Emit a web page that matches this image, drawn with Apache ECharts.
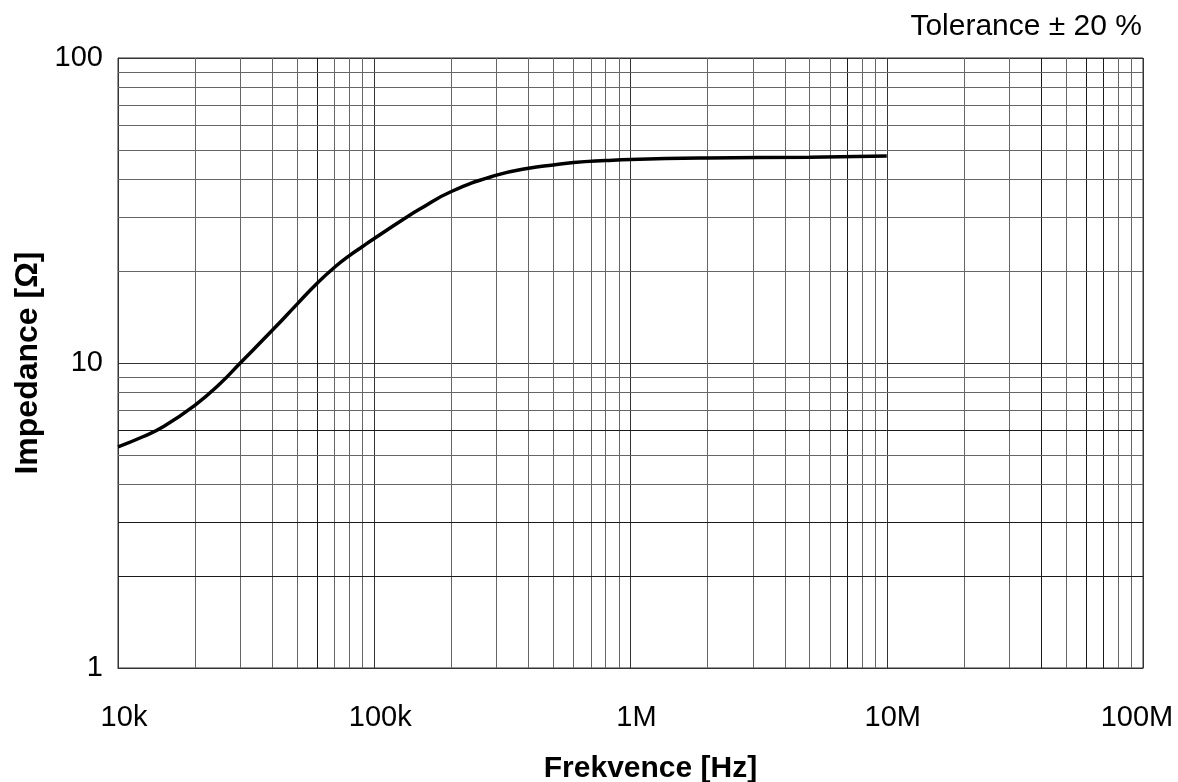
<!DOCTYPE html>
<html>
<head>
<meta charset="utf-8">
<script src="https://cdn.jsdelivr.net/npm/echarts@6/dist/echarts.min.js"></script>
<style>
html,body{margin:0;padding:0;background:#fff;overflow:hidden;}
#chart{width:1178px;height:782px;}
</style>
</head>
<body>
<div id="chart"></div>
<script>
// Impedance curve (frequency in Hz, impedance in ohms)
const frequency = [10000, 12500, 15000, 20000, 25000, 30000, 40000, 50000, 60000, 70000, 80000, 90000, 100000, 130000, 150000, 200000, 300000, 400000, 500000, 600000, 800000, 1000000, 2000000, 5000000, 10000000];
const impedance = [5.31, 5.73, 6.18, 7.28, 8.55, 10.0, 12.8, 15.6, 18.3, 20.6, 22.5, 24.1, 25.6, 29.6, 31.9, 36.5, 41.3, 43.5, 44.6, 45.4, 46.1, 46.5, 47.0, 47.3, 47.7];

// Axis ticks
const xTicks = [10000, 100000, 1000000, 10000000, 100000000];
const xTickLabels = ['10k', '100k', '1M', '10M', '100M'];
const yTicks = [1, 10, 100];
const yTickLabels = ['1', '10', '100'];

// Minor grid lines
const xMinor = [20000, 30000, 40000, 50000, 60000, 70000, 80000, 90000,
  200000, 300000, 400000, 500000, 600000, 700000, 800000, 900000,
  2000000, 3000000, 4000000, 5000000, 6000000, 7000000, 8000000, 9000000,
  20000000, 30000000, 40000000, 50000000, 60000000, 70000000, 80000000, 90000000];
const xMinorDark = [60000, 7000000, 40000000, 60000000, 70000000];
const yMinor = [2, 3, 4, 5, 6, 7, 8, 9, 20, 30, 40, 50, 60, 70, 80, 90];
const yMinorDark = [2, 3, 6];

const chart = echarts.init(document.getElementById('chart'), null, {renderer: 'canvas'});

const FONT = '"Liberation Sans", Arial, sans-serif';
const light = '#666';
const dark = '#1a1a1a';

function tickIndex(ticks, v) {
  const e = Math.round(Math.log10(v));
  for (let i = 0; i < ticks.length; i++) {
    if (Math.round(Math.log10(ticks[i])) === e) return i;
  }
  return -1;
}

const gridLines = [];
xMinor.forEach(v => gridLines.push({xAxis: v, lineStyle: {color: xMinorDark.indexOf(v) >= 0 ? dark : light}}));
yMinor.forEach(v => gridLines.push({yAxis: v, lineStyle: {color: yMinorDark.indexOf(v) >= 0 ? dark : light}}));

chart.setOption({
  animation: false,
  backgroundColor: '#fff',
  title: {
    text: 'Tolerance \u00b1 20 %',
    right: 36,
    top: 12,
    padding: 0,
    textStyle: {fontFamily: FONT, fontSize: 30, fontWeight: 'normal', color: '#000'}
  },
  grid: {
    left: 118, right: 35, top: 58, bottom: 114,
    show: true, borderColor: '#333', borderWidth: 1, containLabel: false,
    outerBoundsMode: 'none'
  },
  xAxis: {
    type: 'log', logBase: 10, min: xTicks[0], max: xTicks[xTicks.length - 1],
    name: 'Frekvence [Hz]', nameLocation: 'middle', nameGap: 86,
    nameTextStyle: {fontFamily: FONT, fontSize: 30, fontWeight: 'bold', color: '#000', padding: [0, 0, 0, 40], verticalAlign: 'top'},
    axisLine: {show: true, lineStyle: {color: '#333', width: 1}},
    axisTick: {show: false},
    axisLabel: {
      formatter: function (v) {
        const i = tickIndex(xTicks, v);
        if (i < 0) return '';
        return (i === xTicks.length - 1 ? '{r|' : '{n|') + xTickLabels[i] + '}';
      },
      margin: 35,
      fontFamily: FONT, fontSize: 29, color: '#000',
      rich: {
        n: {fontFamily: FONT, fontSize: 29, color: '#000', padding: [0, 0, 0, 12]},
        r: {fontFamily: FONT, fontSize: 29, color: '#000', padding: [0, 12, 0, 0]}
      }
    },
    splitLine: {show: true, lineStyle: {color: '#333', width: 1}},
    minorTick: {show: false}, minorSplitLine: {show: false}
  },
  yAxis: {
    type: 'log', logBase: 10, min: yTicks[0], max: yTicks[yTicks.length - 1],
    name: 'Impedance [\u03a9]', nameLocation: 'middle', nameGap: 71, nameRotate: 90,
    nameTextStyle: {fontFamily: FONT, fontSize: 32, fontWeight: 'bold', color: '#000'},
    axisLine: {show: true, lineStyle: {color: '#333', width: 1}},
    axisTick: {show: false},
    axisLabel: {
      formatter: function (v) {
        const i = tickIndex(yTicks, v);
        return i < 0 ? '' : yTickLabels[i];
      },
      margin: 15,
      fontFamily: FONT, fontSize: 29, color: '#000'
    },
    splitLine: {show: true, lineStyle: {color: '#333', width: 1}},
    minorTick: {show: false}, minorSplitLine: {show: false}
  },
  series: [
    {
      type: 'line', data: [], z: 1, silent: true,
      markLine: {
        silent: true, symbol: ['none', 'none'], animation: false,
        label: {show: false},
        lineStyle: {type: 'solid', width: 1, color: light},
        emphasis: {disabled: true},
        data: gridLines
      }
    },
    {
      type: 'line', z: 5,
      data: frequency.map((f, i) => [f, impedance[i]]),
      smooth: 0.5, showSymbol: false, symbol: 'none',
      lineStyle: {color: '#000', width: 3.5}
    }
  ]
});
</script>
</body>
</html>
